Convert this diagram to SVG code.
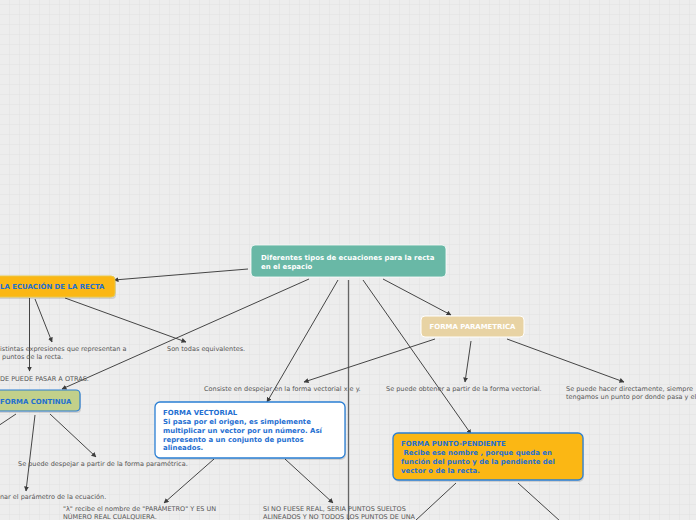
<svg xmlns="http://www.w3.org/2000/svg" width="696" height="520" viewBox="0 0 696 520">
<defs>
<pattern id="grid" width="10" height="10" patternUnits="userSpaceOnUse" x="0" y="5">
<rect width="10" height="10" fill="#ededed"/>
<path d="M10 0V10M0 10H10" stroke="#e1e1e1" stroke-width="1" fill="none"/>
</pattern>
<marker id="ah" viewBox="0 0 10 10" refX="9" refY="5" markerWidth="5" markerHeight="5" orient="auto" markerUnits="userSpaceOnUse">
<path d="M0 0L10 5L0 10z" fill="#3c3c3c"/>
</marker>
</defs>
<style>
.c{stroke:#454545;stroke-width:1;fill:none}
.a{marker-end:url(#ah)}
.t{font-family:"DejaVu Sans",Verdana,sans-serif;font-size:6.5px;fill:#555}
.b{font-family:"DejaVu Sans",Verdana,sans-serif;font-size:6.95px;font-weight:bold}
.bl{fill:#1f6fd1}
.w{fill:#ffffff}
.sh{fill:#000;opacity:0.12}
</style>
<rect width="696" height="520" fill="url(#grid)"/>
<g id="connectors">
<line class="c a" x1="248" y1="269" x2="114" y2="280"/>
<line class="c a" x1="309" y1="279" x2="62" y2="389"/>
<line class="c a" x1="338" y1="280" x2="267" y2="402"/>
<line x1="348.5" y1="280" x2="348.5" y2="520" stroke="#666" stroke-width="1.3"/>
<line class="c a" x1="363" y1="280" x2="471" y2="434"/>
<line class="c a" x1="383" y1="279" x2="451" y2="315"/>
<line class="c a" x1="29.5" y1="298" x2="29.5" y2="371"/>
<line class="c a" x1="35" y1="299" x2="52" y2="342"/>
<line class="c a" x1="65" y1="298" x2="186" y2="342"/>
<line class="c a" x1="435" y1="339" x2="304" y2="382"/>
<line class="c a" x1="471" y1="341" x2="465" y2="382"/>
<line class="c a" x1="507" y1="339" x2="624" y2="382"/>
<line class="c" x1="16" y1="414" x2="-2" y2="426"/>
<line class="c a" x1="35" y1="415" x2="26" y2="491"/>
<line class="c a" x1="50" y1="414" x2="96" y2="457"/>
<line class="c a" x1="214" y1="459" x2="164" y2="503"/>
<line class="c a" x1="285" y1="459" x2="333" y2="503"/>
<line class="c" x1="456" y1="483" x2="415" y2="521"/>
<line class="c" x1="518" y1="483" x2="560" y2="521"/>
</g>
<g id="n-central">
<rect x="251" y="245" width="195" height="32" rx="4" fill="#69b8a6" stroke="#ffffff" stroke-width="0.8"/>
<text class="b w" x="261" y="260">Diferentes tipos de ecuaciones para la recta</text>
<text class="b w" x="261" y="269">en el espacio</text>
</g>
<g id="n-ecuacion">
<rect class="sh" x="-10" y="278" width="126" height="21" rx="4"/>
<rect x="-10" y="276" width="125" height="21" rx="4" fill="#fbb714" stroke="#e8c84a" stroke-width="1"/>
<text class="b bl" x="0" y="289">LA ECUACIÓN DE LA RECTA</text>
</g>
<g id="n-parametrica">
<rect x="421" y="316" width="103" height="21" rx="4" fill="#e8d3a4" stroke="#ffffff" stroke-width="1"/>
<text class="b w" x="472.5" y="329" text-anchor="middle">FORMA PARAMETRICA</text>
</g>
<g id="n-continua">
<rect class="sh" x="-10" y="392" width="91" height="21" rx="4"/>
<rect x="-10" y="390" width="90" height="21" rx="4" fill="#c2d08a" stroke="#2a7fd4" stroke-width="1.2"/>
<text class="b bl" x="0" y="404">FORMA CONTINUA</text>
</g>
<g id="n-vectorial">
<rect class="sh" x="156" y="404" width="190" height="56" rx="5"/>
<rect x="155" y="402" width="190" height="56" rx="5" fill="#ffffff" stroke="#2a7fd4" stroke-width="1.3"/>
<text class="b bl" x="163" y="415">FORMA VECTORIAL</text>
<text class="b bl" x="163" y="424">Si pasa por el origen, es simplemente</text>
<text class="b bl" x="163" y="433">multiplicar un vector por un número. Así</text>
<text class="b bl" x="163" y="441.5">represento a un conjunto de puntos</text>
<text class="b bl" x="163" y="450">alineados.</text>
</g>
<g id="n-punto">
<rect class="sh" x="394" y="435" width="190" height="47" rx="5"/>
<rect x="393" y="433" width="190" height="47" rx="5" fill="#fbb714" stroke="#2a7fd4" stroke-width="1.3"/>
<text class="b bl" x="401" y="446">FORMA PUNTO-PENDIENTE</text>
<text class="b bl" x="401" y="455" xml:space="preserve"> Recibe ese nombre , porque queda en</text>
<text class="b bl" x="401" y="464">función del punto y de la pendiente del</text>
<text class="b bl" x="401" y="472.5">vector o de la recta.</text>
</g>
<g id="texts">
<text class="t" x="0" y="351">istintas expresiones que representan a</text>
<text class="t" x="2" y="359">puntos de la recta.</text>
<text class="t" x="0" y="381">DE PUEDE PASAR A OTRAS.</text>
<text class="t" x="167" y="351">Son todas equivalentes.</text>
<text class="t" x="204" y="391">Consiste en despejar en la forma vectorial x e y.</text>
<text class="t" x="386" y="391">Se puede obtener a partir de la forma vectorial.</text>
<text class="t" x="566" y="391">Se puede hacer directamente, siempre</text>
<text class="t" x="566" y="399">tengamos un punto por donde pasa y el</text>
<text class="t" x="18" y="466">Se puede despejar a partir de la forma paramétrica.</text>
<text class="t" x="0" y="499">nar el parámetro de la ecuación.</text>
<text class="t" x="63" y="511">"λ" recibe el nombre de "PARÁMETRO" Y ES UN</text>
<text class="t" x="63" y="518.5">NÚMERO REAL CUALQUIERA.</text>
<text class="t" x="263" y="511">SI NO FUESE REAL, SERIA PUNTOS SUELTOS</text>
<text class="t" x="263" y="518.5">ALINEADOS Y NO TODOS LOS PUNTOS DE UNA</text>
</g>
</svg>
